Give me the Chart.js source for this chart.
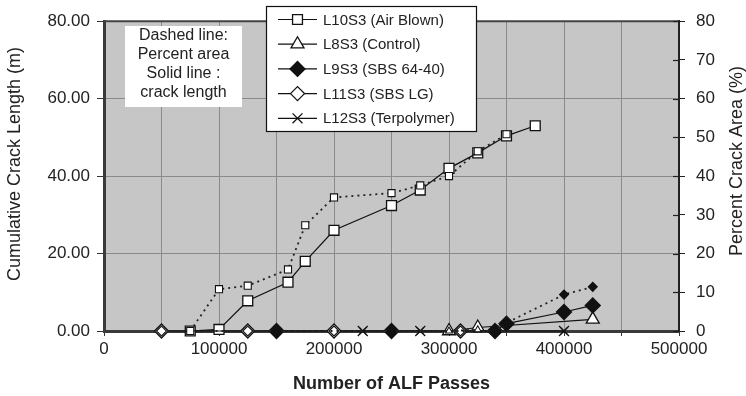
<!DOCTYPE html>
<html>
<head>
<meta charset="utf-8">
<script src="https://cdn.jsdelivr.net/npm/chart.js@4.4.1/dist/chart.umd.min.js"></script>
<style>
html, body { margin: 0; padding: 0; background: #fff; }
#holder { width: 746px; height: 396px; }
</style>
</head>
<body>
<div id="holder"><canvas id="chart-area" width="746" height="396"></canvas></div>
<script>
// number of ALF passes / crack length (m) / crack area (%)
var passesL10 = [75000, 100000, 125000, 160000, 175000, 200000, 250000, 275000, 300000, 325000, 350000, 375000];
var lengthL10 = [0, 0.4, 7.8, 12.6, 18.0, 26.0, 32.4, 36.4, 42.0, 46.0, 50.4, 53.0];
var areaPassesL10 = [75000, 100000, 125000, 160000, 175000, 200000, 250000, 275000, 300000, 325000, 350000];
var areaL10 = [0, 10.8, 11.7, 15.9, 27.3, 34.5, 35.6, 37.6, 40.0, 46.4, 50.8];

var passesL8 = [300000, 325000, 425000];
var lengthL8 = [0, 0.9, 3.0];
var areaPassesL8 = [300000, 325000];
var areaL8 = [0, 0.3];

var passesL9 = [150000, 250000, 340000, 350000, 400000, 425000];
var lengthL9 = [0, 0, 0, 1.9, 4.9, 6.6];
var areaL9 = [0, 0, 0, 2.1, 9.4, 11.4];

var passesL11 = [50000, 125000, 200000, 310000];
var lengthL11 = [0, 0, 0, 0];
var areaL11 = [0, 0, 0, 0];

var passesL12 = [225000, 275000, 400000];
var lengthL12 = [0, 0, 0];
var areaL12 = [0, 0, 0];

var seriesNames = ['L10S3 (Air Blown)', 'L8S3 (Control)', 'L9S3 (SBS 64-40)', 'L11S3 (SBS LG)', 'L12S3 (Terpolymer)'];

var FONT = "'Liberation Sans', Arial, Helvetica, sans-serif";

function pts(xs, ys) {
    var out = [];
    for (var i = 0; i < xs.length; i++) {
        out.push({x: xs[i], y: ys[i]});
    }
    return out;
}

//实线: 裂缝长度
function solidSet(label, data, style, radius, fill) {
    return {
        label: label, data: data, yAxisID: 'y', solid: true,
        borderColor: '#111', borderWidth: 1.2,
        pointStyle: style, pointRadius: radius, pointHoverRadius: radius,
        pointBackgroundColor: fill, pointBorderColor: '#111', pointBorderWidth: 1.3,
        clip: false
    };
}
//虚线: 裂缝面积
function dashSet(label, data, style, radius, fill) {
    return {
        label: label, data: data, yAxisID: 'y2', solid: false,
        borderColor: '#222', borderWidth: 1.8, borderDash: [2, 4],
        pointStyle: style, pointRadius: radius, pointHoverRadius: radius,
        pointBackgroundColor: fill, pointBorderColor: '#111', pointBorderWidth: 1.1,
        clip: false
    };
}

var datasets = [
    dashSet(seriesNames[0] + ' %', pts(areaPassesL10, areaL10), 'rect', 5, '#fff'),
    dashSet(seriesNames[1] + ' %', pts(areaPassesL8, areaL8), 'triangle', 4, '#fff'),
    dashSet(seriesNames[2] + ' %', pts(passesL9, areaL9), 'rectRot', 4.5, '#111'),
    dashSet(seriesNames[3] + ' %', pts(passesL11, areaL11), 'rectRot', 5, '#fff'),
    dashSet(seriesNames[4] + ' %', pts(passesL12, areaL12), 'crossRot', 5, '#fff'),
    solidSet(seriesNames[3], pts(passesL11, lengthL11), 'rectRot', 7, '#fff'),
    solidSet(seriesNames[4], pts(passesL12, lengthL12), 'crossRot', 7, '#fff'),
    solidSet(seriesNames[2], pts(passesL9, lengthL9), 'rectRot', 7.5, '#111'),
    solidSet(seriesNames[1], pts(passesL8, lengthL8), 'triangle', 7.5, '#fff'),
    solidSet(seriesNames[0], pts(passesL10, lengthL10), 'rect', 7, '#fff')
];

function drawVTitle(ctx, text, x, y) {
    ctx.save();
    ctx.translate(x, y);
    ctx.rotate(-Math.PI / 2);
    ctx.fillStyle = '#222';
    ctx.font = '18px ' + FONT;
    ctx.textAlign = 'center';
    ctx.textBaseline = 'middle';
    ctx.fillText(text, 0, 0);
    ctx.restore();
}

var plotDecor = {
    id: 'plotDecor',
    beforeDraw: function(chart) {
        var ctx = chart.ctx, a = chart.chartArea;
        ctx.save();
        ctx.fillStyle = '#c6c6c6';
        ctx.fillRect(a.left, a.top, a.right - a.left, a.bottom - a.top);
        ctx.restore();
    },
    beforeDatasetsDraw: function(chart) {
        var ctx = chart.ctx, a = chart.chartArea;
        ctx.save();
        ctx.strokeStyle = '#444';
        ctx.lineWidth = 2;
        ctx.beginPath();
        ctx.moveTo(a.left, a.top);
        ctx.lineTo(a.right, a.top);
        ctx.stroke();
        // right axis ticks cross the axis
        var s = chart.scales.y2;
        ctx.strokeStyle = '#222';
        ctx.lineWidth = 1.2;
        s.ticks.forEach(function(t) {
            var y = Math.round(s.getPixelForValue(t.value)) + 0.5;
            ctx.beginPath();
            ctx.moveTo(a.right - 6, y);
            ctx.lineTo(a.right, y);
            ctx.stroke();
        });
        ctx.restore();
    },
    afterDraw: function(chart) {
        var ctx = chart.ctx;
        drawVTitle(ctx, 'Cumulative Crack Length (m)', 15, 164);
        drawVTitle(ctx, 'Percent Crack Area (%)', 737, 161);
        ctx.save();
        // note box
        ctx.fillStyle = '#fff';
        ctx.fillRect(125, 26, 117, 81);
        ctx.fillStyle = '#222';
        ctx.font = '16px ' + FONT;
        ctx.textAlign = 'center';
        ctx.textBaseline = 'middle';
        var note = ['Dashed line:', 'Percent area', 'Solid line :', 'crack length'];
        for (var i = 0; i < note.length; i++) {
            ctx.fillText(note[i], 183.5, 36 + i * 18.8);
        }
        // legend
        ctx.fillStyle = '#fff';
        ctx.fillRect(266, 6, 211, 126);
        ctx.strokeStyle = '#111';
        ctx.lineWidth = 1.2;
        ctx.strokeRect(266.5, 6.5, 210, 125);
        ctx.font = '15px ' + FONT;
        ctx.textAlign = 'left';
        var solids = chart.data.datasets.filter(function(d) { return d.solid; });
        for (var n = 0; n < seriesNames.length; n++) {
            var ds = solids.filter(function(d) { return d.label === seriesNames[n]; })[0];
            var y = 19.5 + n * 24.7;
            ctx.strokeStyle = '#111';
            ctx.lineWidth = 1.2;
            ctx.beginPath();
            ctx.moveTo(278, y);
            ctx.lineTo(317, y);
            ctx.stroke();
            ctx.fillStyle = ds.pointBackgroundColor;
            ctx.strokeStyle = '#111';
            ctx.lineWidth = 1.3;
            Chart.helpers.drawPoint(ctx, {pointStyle: ds.pointStyle, radius: ds.pointRadius, rotation: 0, borderWidth: 1.3}, 297.5, y);
            ctx.fillStyle = '#222';
            ctx.fillText(seriesNames[n], 323, y + 1);
        }
        ctx.restore();
    }
};

var config = {
    type: 'line',
    data: { datasets: datasets },
    options: {
        responsive: false,
        animation: false,
        layout: { padding: { top: 16, left: 0, right: 0, bottom: 0 } },
        plugins: { legend: { display: false }, tooltip: { enabled: false } },
        scales: {
            x: {
                type: 'linear', min: 0, max: 500000,
                afterFit: function(s) { s.height = 65; },
                ticks: {
                    stepSize: 50000, padding: 3, color: '#222', maxRotation: 0, autoSkip: false,
                    font: { family: FONT, size: 17 },
                    callback: function(v) { return v % 100000 === 0 ? String(v) : ''; }
                },
                grid: { color: '#8a8a8a', lineWidth: 1, tickLength: 5, tickColor: '#333' },
                border: { color: '#3a3a3a', width: 3 },
                title: {
                    display: true, text: 'Number of ALF Passes', color: '#222',
                    font: { family: FONT, size: 18, weight: 'bold' },
                    padding: { top: 0, bottom: 1 }
                }
            },
            y: {
                type: 'linear', position: 'left', min: 0, max: 80,
                afterFit: function(s) { s.width = 104; },
                ticks: {
                    stepSize: 20, padding: 7, color: '#222',
                    font: { family: FONT, size: 17 },
                    callback: function(v) { return v.toFixed(2); }
                },
                grid: { color: '#8a8a8a', lineWidth: 1, tickLength: 7, tickColor: '#333' },
                border: { color: '#3a3a3a', width: 3 }
            },
            y2: {
                type: 'linear', position: 'right', min: 0, max: 80,
                afterFit: function(s) { s.width = 67; },
                ticks: {
                    stepSize: 10, padding: 11, color: '#222',
                    font: { family: FONT, size: 17 }
                },
                grid: { drawOnChartArea: false, tickLength: 6, tickColor: '#222' },
                border: { color: '#222', width: 2 }
            }
        }
    },
    plugins: [plotDecor]
};

var ctx = document.getElementById('chart-area').getContext('2d');
var myChart = new Chart(ctx, config);
</script>
</body>
</html>
